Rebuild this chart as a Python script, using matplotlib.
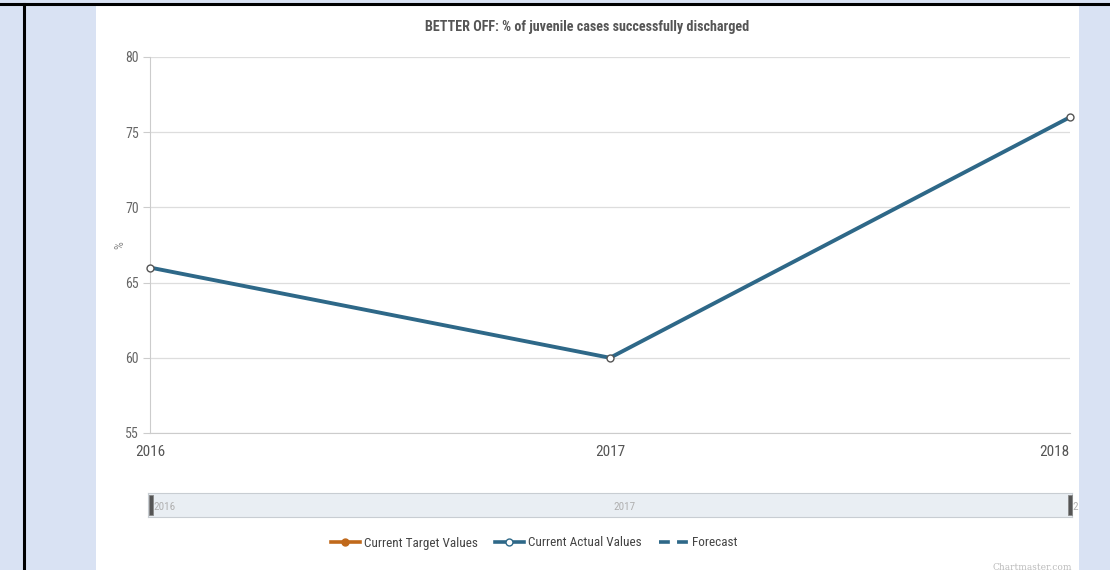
import matplotlib
matplotlib.use("Agg")
import matplotlib.pyplot as plt
from matplotlib import font_manager
from matplotlib.patches import Rectangle
from matplotlib.lines import Line2D

# Data
years = [2016, 2017, 2018]
year_labels = ["2016", "2017", "2018"]
actual_values = [66, 60, 76]
y_ticks = [55, 60, 65, 70, 75, 80]
legend_labels = ["Current Target Values", "Current Actual Values", "Forecast"]
title = "BETTER OFF: % of juvenile cases successfully discharged"

W, H = 1110, 570

# Prefer a condensed sans face when one is installed
installed = {f.name for f in font_manager.fontManager.ttflist}
candidates = ["Roboto Condensed", "Liberation Sans Narrow", "Open Sans Condensed",
              "Noto Sans Condensed", "Roboto", "DejaVu Sans"]
base_font = next(c for c in candidates if c in installed or c == "DejaVu Sans")
plt.rcParams["font.family"] = [base_font, "DejaVu Sans"]

fig = plt.figure(figsize=(W / 100, H / 100), dpi=100)
fig.patch.set_facecolor("#d9e2f3")


def px(x0, y0, w, h):
    """Figure-fraction box from pixel coordinates (top-left origin)."""
    return [x0 / W, 1 - (y0 + h) / H, w / W, h / H]


# White chart panel inside the table cell
fig.patches.append(Rectangle((96 / W, 0), (1079 - 96) / W, (H - 5) / H,
                             transform=fig.transFigure, facecolor="white",
                             edgecolor="none", zorder=-5))
# Table borders
fig.lines.append(Line2D([0, 1], [1 - 4 / H, 1 - 4 / H], transform=fig.transFigure,
                        color="black", lw=2.2, zorder=-4))
fig.lines.append(Line2D([24 / W, 24 / W], [0, 1 - 4 / H], transform=fig.transFigure,
                        color="black", lw=2.2, zorder=-4))

line_color = "#2e6888"
grey_text = "#666666"

ax = fig.add_axes(px(150, 57, 920, 376))
ax.set_facecolor("none")
ax.plot(years, actual_values, color=line_color, lw=2.8, marker="o", ms=5,
        mfc="white", mec="#555555", mew=1.0, zorder=3, solid_joinstyle="round",
        clip_on=False)
ax.set_xlim(years[0], years[-1])
ax.set_ylim(y_ticks[0], y_ticks[-1])
ax.set_yticks(y_ticks)
ax.set_xticks(years)
ax.set_xticklabels(year_labels)
ax.get_xticklabels()[-1].set_horizontalalignment("right")
ax.grid(axis="y", color="#dddddd", lw=0.9)
for s in ["top", "right"]:
    ax.spines[s].set_visible(False)
ax.spines["left"].set_color("#cccccc")
ax.spines["bottom"].set_color("#cccccc")
ax.tick_params(axis="y", length=5, color="#cccccc", labelcolor=grey_text,
               labelsize=10, pad=3)
ax.tick_params(axis="x", length=0, labelcolor="#555555", labelsize=11, pad=9)
ax.set_ylabel("%", color="#888888", fontsize=9, labelpad=-1)

fig.text(587 / W, 1 - 27 / H, title, fontsize=10.2, fontweight="bold",
         color="#555555", ha="center", va="center")

# Range selector below the chart
nav = fig.add_axes(px(148, 493, 924, 24))
nav.set_facecolor("#e9eef3")
nav.set_xlim(years[0] - 0.003, years[-1] + 0.003)
nav.set_ylim(0, 1)
nav.set_xticks([])
nav.set_yticks([])
for s in nav.spines.values():
    s.set_color("#c8cdd2")
    s.set_linewidth(0.8)
for yr, lab in zip(years[:2], year_labels[:2]):
    nav.text(yr + 0.008, 0.42, lab, color="#b0b0b0", fontsize=8,
             va="center", ha="left")
nav.text(years[-1] + 0.003, 0.42, "2", color="#b0b0b0", fontsize=8,
         va="center", ha="left", clip_on=False)
for xh in [years[0], years[-1] - 0.006]:
    nav.add_patch(Rectangle((xh, 0.1), 0.008, 0.8, facecolor="#555555",
                            edgecolor="#888888", lw=0.6, zorder=3, clip_on=False))

# Legend
handles = [
    Line2D([], [], color="#c0691b", lw=2.6, marker="o", ms=5, mfc="#c0691b",
           mec="#c0691b"),
    Line2D([], [], color=line_color, lw=2.6, marker="o", ms=5, mfc="white",
           mec=line_color),
    Line2D([], [], color=line_color, lw=2.6, ls=(0, (3, 2))),
]
fig.legend(handles, legend_labels, loc="center", ncol=3,
           bbox_to_anchor=(534 / W, 1 - 543 / H), frameon=False,
           fontsize=9.5, labelcolor="#444444", handlelength=2.2,
           handletextpad=0.3, columnspacing=1.3)

fig.text(1072 / W, 1 - 567 / H, "Chartmaster.com", color="#bbbbbb",
         fontsize=6.5, ha="right", va="center", family="DejaVu Serif")

fig.savefig("out.png", dpi=100, facecolor=fig.get_facecolor())
